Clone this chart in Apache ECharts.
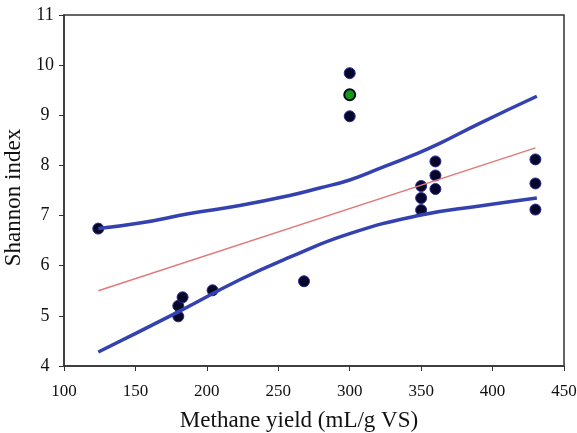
<!DOCTYPE html>
<html>
<head>
<meta charset="utf-8">
<script src="https://cdn.jsdelivr.net/npm/echarts@6/dist/echarts.min.js"></script>
<style>
    html, body { margin: 0; padding: 0; background: #fff; }
    #chart { width: 577px; height: 433px; }
</style>
</head>
<body>
<div id="chart"></div>
<script>
    // measured points (methane yield, shannon index)
    var pointX = [124, 180, 180, 183, 204, 268, 300, 300, 350, 350, 350, 360, 360, 360, 430, 430, 430];
    var pointY = [6.74, 5.20, 4.99, 5.37, 5.51, 5.69, 9.84, 8.98, 7.59, 7.35, 7.11, 8.08, 7.80, 7.53, 8.12, 7.64, 7.12];
    // highlighted point
    var greenX = [300];
    var greenY = [9.41];
    // regression line
    var fitX = [124, 430];
    var fitY = [5.50, 8.35];
    // confidence band
    var upperX = [124, 153, 188, 223, 258, 279, 300, 321, 344, 363, 391, 431];
    var upperY = [6.74, 6.85, 7.04, 7.20, 7.40, 7.55, 7.71, 7.94, 8.20, 8.44, 8.84, 9.38];
    var lowerX = [124, 180, 223, 258, 300, 350, 391, 431];
    var lowerY = [4.28, 5.08, 5.72, 6.17, 6.64, 7.01, 7.19, 7.35];

    function pairs(xs, ys) {
        var out = [];
        for (var i = 0; i < xs.length; i++) {
            out.push([xs[i], ys[i]]);
        }
        return out;
    }

    var font = 'Liberation Serif';
    var myChart = echarts.init(document.getElementById('chart'));
    var option = {
        animation: false,
        grid: {
            left: 64, right: 13, top: 15, bottom: 67,
            outerBoundsMode: 'none', containLabel: false,
            show: true, borderColor: '#333', borderWidth: 1.5
        },
        xAxis: {
            type: 'value', min: 100, max: 450, interval: 50,
            name: 'Methane yield (mL/g VS)',
            nameLocation: 'middle', nameGap: 43,
            nameTextStyle: { fontFamily: font, fontSize: 23, color: '#111', padding: [0, 30, 0, 0] },
            axisLine: { show: true, lineStyle: { color: '#333', width: 1.5 } },
            axisTick: { show: true, length: 5, lineStyle: { color: '#333' } },
            axisLabel: { fontFamily: font, fontSize: 17, color: '#111', margin: 17 },
            splitLine: { show: false }
        },
        yAxis: {
            type: 'value', min: 4, max: 11, interval: 1,
            name: 'Shannon index',
            nameLocation: 'middle', nameGap: 31,
            nameTextStyle: { fontFamily: font, fontSize: 23, color: '#111', padding: [0, 14, 0, 0] },
            axisLine: { show: true, lineStyle: { color: '#333', width: 1.5 } },
            axisTick: { show: true, length: 5, lineStyle: { color: '#333' } },
            axisLabel: { fontFamily: font, fontSize: 18, color: '#111', margin: 19, align: 'center' },
            splitLine: { show: false }
        },
        series: [
            {
                type: 'line', smooth: true, symbol: 'none',
                data: pairs(upperX, upperY),
                lineStyle: { color: '#3342b0', width: 3.5 }
            },
            {
                type: 'line', smooth: true, symbol: 'none',
                data: pairs(lowerX, lowerY),
                lineStyle: { color: '#3342b0', width: 3.5 }
            },
            {
                type: 'line', symbol: 'none',
                data: pairs(fitX, fitY),
                lineStyle: { color: '#e07a7a', width: 1.5 }
            },
            {
                type: 'scatter', symbolSize: 11,
                data: pairs(pointX, pointY),
                itemStyle: { color: '#060628', borderColor: '#2a2a90', borderWidth: 1, opacity: 1 }
            },
            {
                type: 'scatter', symbolSize: 11,
                data: pairs(greenX, greenY),
                itemStyle: { color: '#139a13', borderColor: '#060628', borderWidth: 2, opacity: 1 }
            }
        ]
    };
    myChart.setOption(option);
</script>
</body>
</html>
